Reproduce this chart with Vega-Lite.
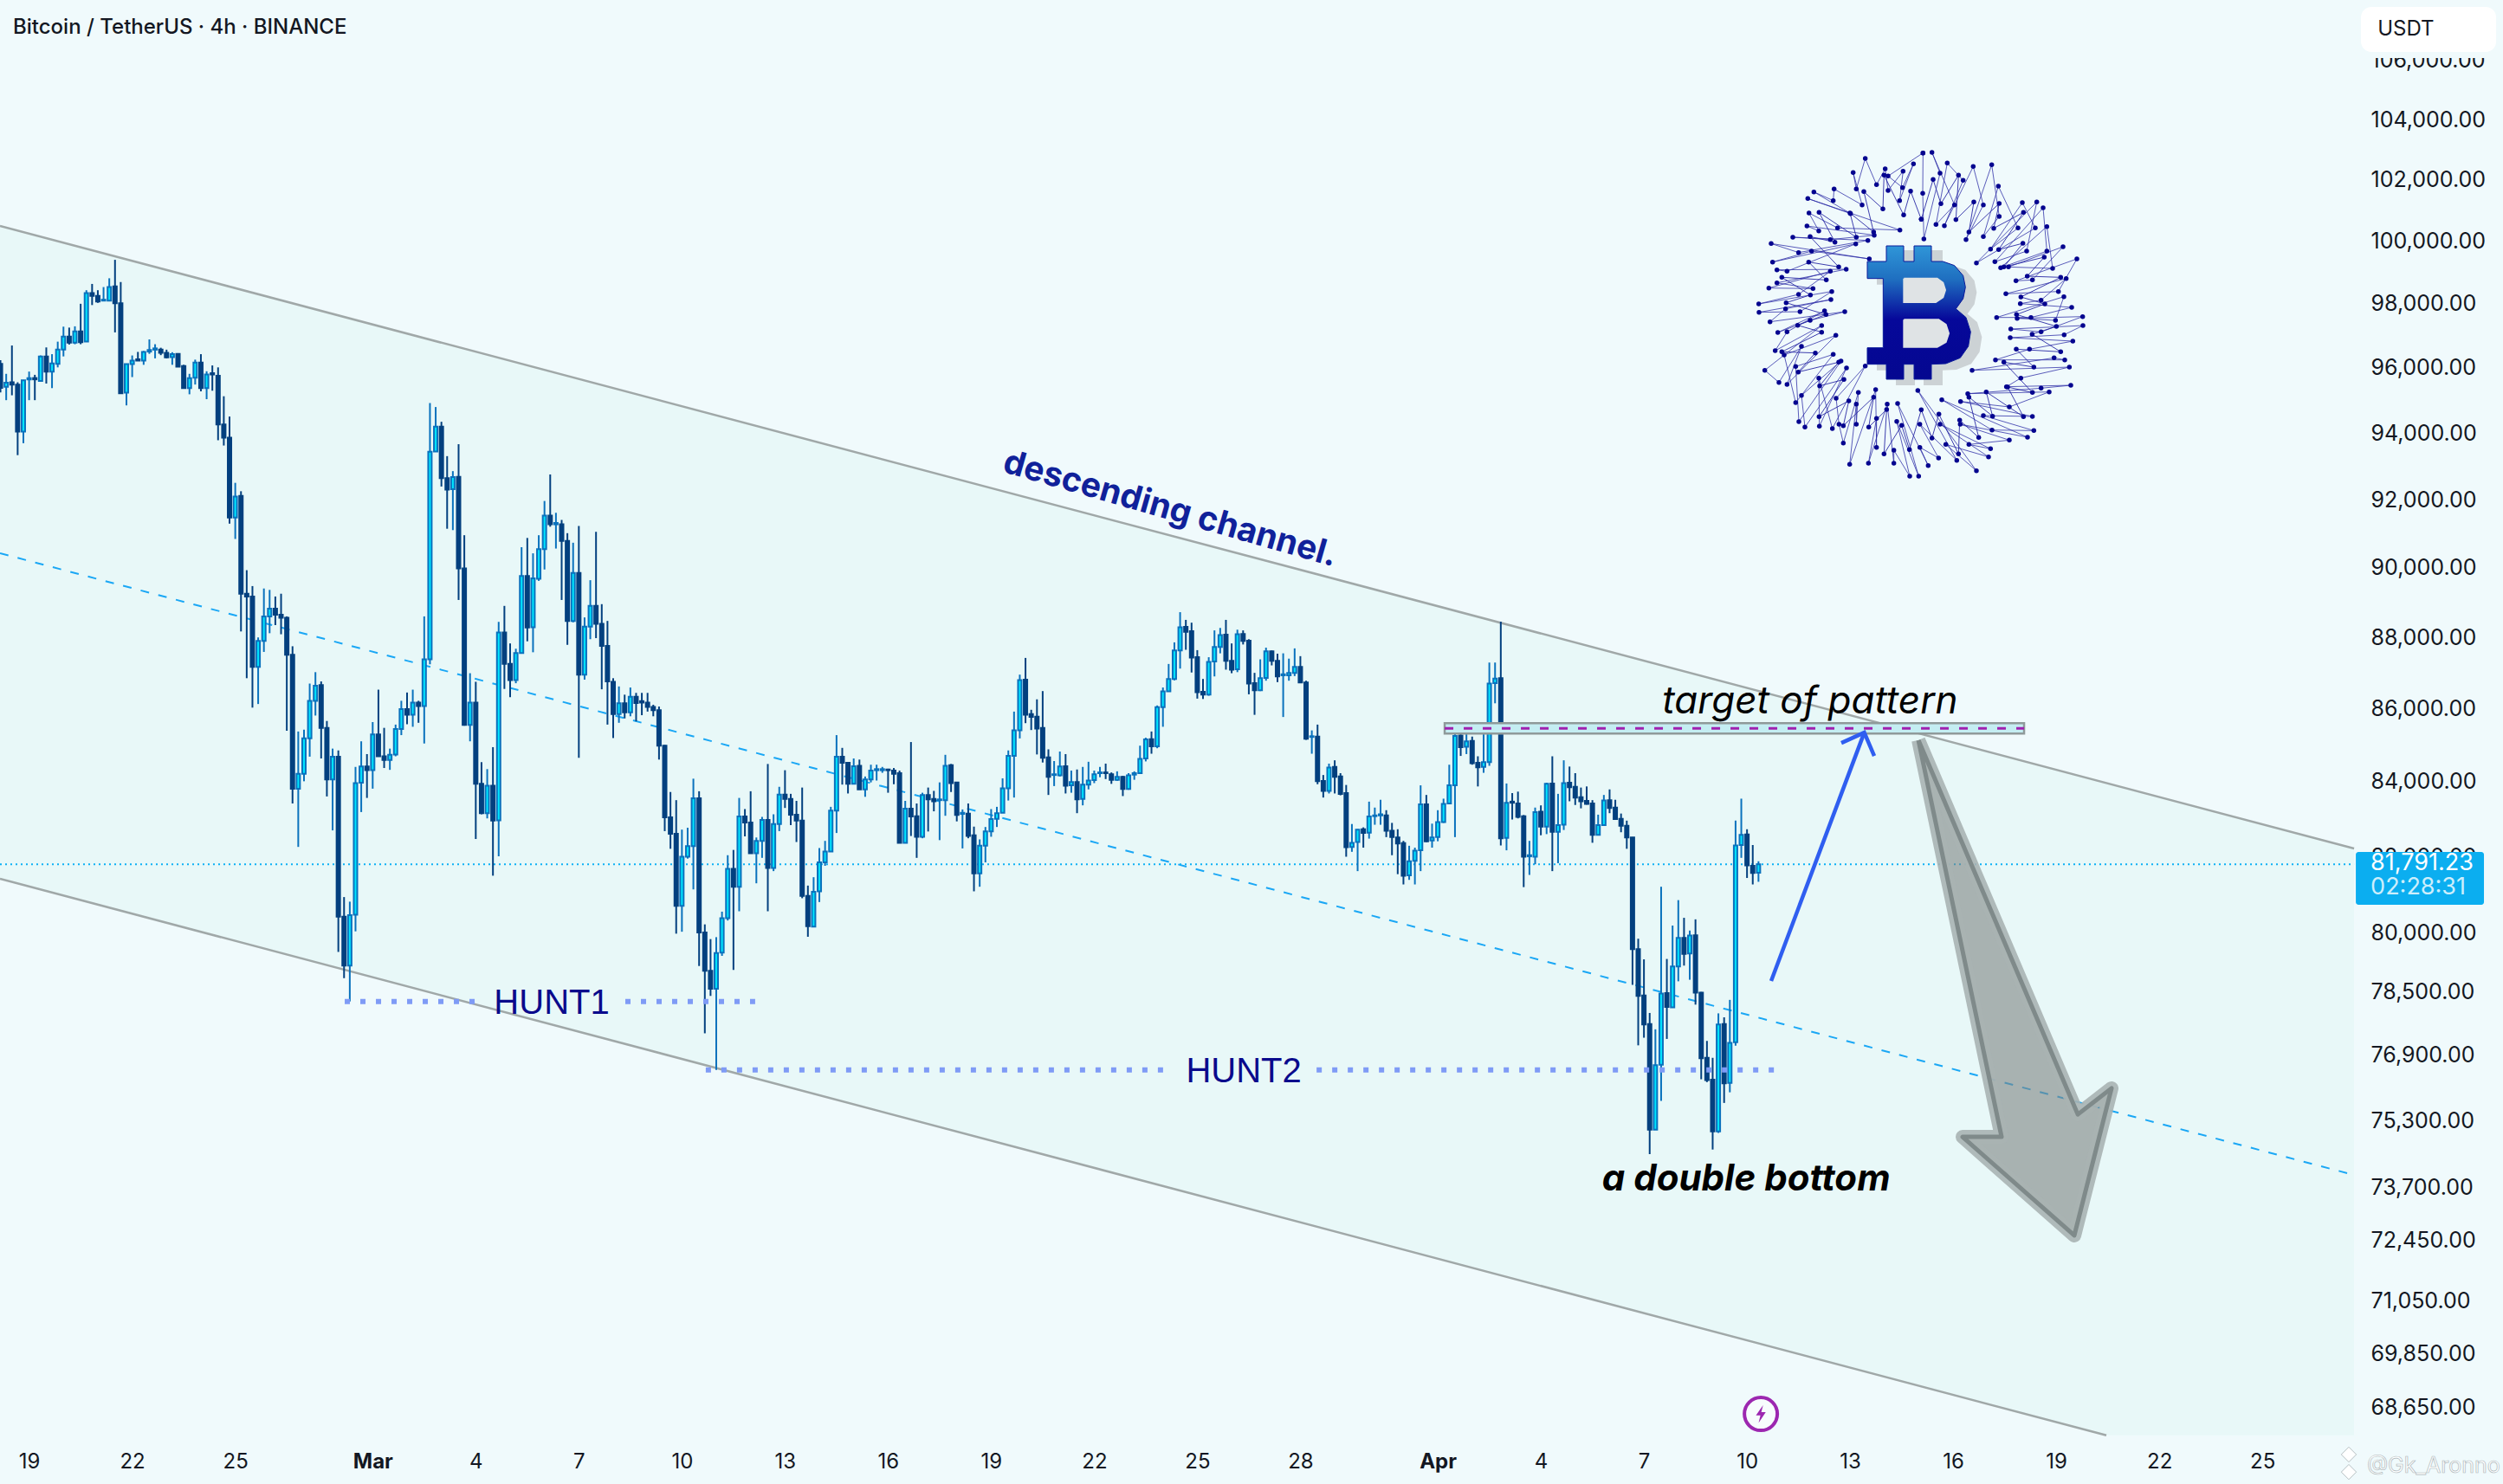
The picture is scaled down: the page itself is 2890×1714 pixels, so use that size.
{
"$schema":"https://vega.github.io/schema/vega-lite/v6.json",
"description":"BTCUSDT 4h descending channel with a double bottom",
"width":2890,"height":1714,"padding":0,
"autosize":{"type":"none"},
"background":"#f0fafc",
"config":{"view":{"stroke":null}},
"title":{"text":"Bitcoin / TetherUS · 4h · BINANCE","anchor":"start","frame":"group","dx":15,"offset":-44,"font":"Inter","fontSize":24,"fontWeight":500,"color":"#131722"},
"datasets":{
"days":[{"t":"2025-02-19T00:00Z"},{"t":"2025-02-22T00:00Z"},{"t":"2025-02-25T00:00Z"},{"t":"2025-03-01T00:00Z"},{"t":"2025-03-04T00:00Z"},{"t":"2025-03-07T00:00Z"},{"t":"2025-03-10T00:00Z"},{"t":"2025-03-13T00:00Z"},{"t":"2025-03-16T00:00Z"},{"t":"2025-03-19T00:00Z"},{"t":"2025-03-22T00:00Z"},{"t":"2025-03-25T00:00Z"},{"t":"2025-03-28T00:00Z"},{"t":"2025-04-01T00:00Z"},{"t":"2025-04-04T00:00Z"},{"t":"2025-04-07T00:00Z"},{"t":"2025-04-10T00:00Z"},{"t":"2025-04-13T00:00Z"},{"t":"2025-04-16T00:00Z"},{"t":"2025-04-19T00:00Z"},{"t":"2025-04-22T00:00Z"},{"t":"2025-04-25T00:00Z"}],
"candles":[
{"t":"2025-02-18T04:00Z","o":96120,"h":96230,"l":95240,"c":95380},
{"t":"2025-02-18T08:00Z","o":95410,"h":95810,"l":95000,"c":95540},
{"t":"2025-02-18T12:00Z","o":95550,"h":96690,"l":95150,"c":95480},
{"t":"2025-02-18T16:00Z","o":95480,"h":95550,"l":93330,"c":94040},
{"t":"2025-02-18T20:00Z","o":94040,"h":95620,"l":93690,"c":95610},
{"t":"2025-02-19T00:00Z","o":95640,"h":95880,"l":95000,"c":95680},
{"t":"2025-02-19T04:00Z","o":95680,"h":95780,"l":95000,"c":95640},
{"t":"2025-02-19T08:00Z","o":95590,"h":96380,"l":95570,"c":96350},
{"t":"2025-02-19T12:00Z","o":96350,"h":96630,"l":95510,"c":95880},
{"t":"2025-02-19T16:00Z","o":95880,"h":96420,"l":95370,"c":96130},
{"t":"2025-02-19T20:00Z","o":96120,"h":96810,"l":96010,"c":96560},
{"t":"2025-02-20T00:00Z","o":96560,"h":97280,"l":96350,"c":96970},
{"t":"2025-02-20T04:00Z","o":96970,"h":97250,"l":96720,"c":96780},
{"t":"2025-02-20T08:00Z","o":96780,"h":97290,"l":96730,"c":97130},
{"t":"2025-02-20T12:00Z","o":97130,"h":98000,"l":96730,"c":96790},
{"t":"2025-02-20T16:00Z","o":96810,"h":98430,"l":96810,"c":98340},
{"t":"2025-02-20T20:00Z","o":98340,"h":98630,"l":97960,"c":98250},
{"t":"2025-02-21T00:00Z","o":98250,"h":98430,"l":98030,"c":98070},
{"t":"2025-02-21T04:00Z","o":98100,"h":98530,"l":98090,"c":98130},
{"t":"2025-02-21T08:00Z","o":98100,"h":98810,"l":98090,"c":98530},
{"t":"2025-02-21T12:00Z","o":98550,"h":99400,"l":97100,"c":98020},
{"t":"2025-02-21T16:00Z","o":98020,"h":98690,"l":95210,"c":95210},
{"t":"2025-02-21T20:00Z","o":95230,"h":96120,"l":94840,"c":96110},
{"t":"2025-02-22T00:00Z","o":96110,"h":96380,"l":95710,"c":96220},
{"t":"2025-02-22T04:00Z","o":96260,"h":96490,"l":96220,"c":96220},
{"t":"2025-02-22T08:00Z","o":96220,"h":96520,"l":96090,"c":96490},
{"t":"2025-02-22T12:00Z","o":96500,"h":96880,"l":96430,"c":96550},
{"t":"2025-02-22T16:00Z","o":96560,"h":96730,"l":96290,"c":96600},
{"t":"2025-02-22T20:00Z","o":96560,"h":96620,"l":96390,"c":96460},
{"t":"2025-02-23T00:00Z","o":96460,"h":96560,"l":96290,"c":96320},
{"t":"2025-02-23T04:00Z","o":96330,"h":96480,"l":96090,"c":96420},
{"t":"2025-02-23T08:00Z","o":96430,"h":96450,"l":96030,"c":96030},
{"t":"2025-02-23T12:00Z","o":96050,"h":96090,"l":95370,"c":95370},
{"t":"2025-02-23T16:00Z","o":95370,"h":95810,"l":95180,"c":95680},
{"t":"2025-02-23T20:00Z","o":95690,"h":96250,"l":95480,"c":96160},
{"t":"2025-02-24T00:00Z","o":96160,"h":96420,"l":95270,"c":95370},
{"t":"2025-02-24T04:00Z","o":95370,"h":95890,"l":95030,"c":95790},
{"t":"2025-02-24T08:00Z","o":95830,"h":96070,"l":95290,"c":95790},
{"t":"2025-02-24T12:00Z","o":95750,"h":96010,"l":93780,"c":94260},
{"t":"2025-02-24T16:00Z","o":94260,"h":95120,"l":93620,"c":93860},
{"t":"2025-02-24T20:00Z","o":93860,"h":94500,"l":91290,"c":91470},
{"t":"2025-02-25T00:00Z","o":91470,"h":92500,"l":90840,"c":92090},
{"t":"2025-02-25T04:00Z","o":92110,"h":92250,"l":88170,"c":89250},
{"t":"2025-02-25T08:00Z","o":89250,"h":89930,"l":86850,"c":89170},
{"t":"2025-02-25T12:00Z","o":89170,"h":89470,"l":86030,"c":87170},
{"t":"2025-02-25T16:00Z","o":87170,"h":88000,"l":86130,"c":87900},
{"t":"2025-02-25T20:00Z","o":87900,"h":89400,"l":87590,"c":88600},
{"t":"2025-02-26T00:00Z","o":88600,"h":89360,"l":88120,"c":88820},
{"t":"2025-02-26T04:00Z","o":88820,"h":89170,"l":88350,"c":88650},
{"t":"2025-02-26T08:00Z","o":88650,"h":89250,"l":88090,"c":88560},
{"t":"2025-02-26T12:00Z","o":88560,"h":88600,"l":85390,"c":87510},
{"t":"2025-02-26T16:00Z","o":87510,"h":87750,"l":83410,"c":83810},
{"t":"2025-02-26T20:00Z","o":83810,"h":85370,"l":82250,"c":84210},
{"t":"2025-02-27T00:00Z","o":84210,"h":85420,"l":84010,"c":85180},
{"t":"2025-02-27T04:00Z","o":85180,"h":86700,"l":84680,"c":86220},
{"t":"2025-02-27T08:00Z","o":86220,"h":87020,"l":85810,"c":86640},
{"t":"2025-02-27T12:00Z","o":86660,"h":86760,"l":84630,"c":85470},
{"t":"2025-02-27T16:00Z","o":85470,"h":85660,"l":83600,"c":84060},
{"t":"2025-02-27T20:00Z","o":84060,"h":84900,"l":82690,"c":84680},
{"t":"2025-02-28T00:00Z","o":84680,"h":84850,"l":79510,"c":80420},
{"t":"2025-02-28T04:00Z","o":80420,"h":80930,"l":78840,"c":79160},
{"t":"2025-02-28T08:00Z","o":79160,"h":80810,"l":78250,"c":80460},
{"t":"2025-02-28T12:00Z","o":80470,"h":84400,"l":80040,"c":83960},
{"t":"2025-02-28T16:00Z","o":83970,"h":85100,"l":83180,"c":84410},
{"t":"2025-02-28T20:00Z","o":84410,"h":84750,"l":83560,"c":84310},
{"t":"2025-03-01T00:00Z","o":84310,"h":85630,"l":83810,"c":85290},
{"t":"2025-03-01T04:00Z","o":85290,"h":86530,"l":84690,"c":84690},
{"t":"2025-03-01T08:00Z","o":84690,"h":85470,"l":84370,"c":84590},
{"t":"2025-03-01T12:00Z","o":84590,"h":84900,"l":84320,"c":84730},
{"t":"2025-03-01T16:00Z","o":84740,"h":85560,"l":84690,"c":85440},
{"t":"2025-03-01T20:00Z","o":85440,"h":86220,"l":85270,"c":85990},
{"t":"2025-03-02T00:00Z","o":85990,"h":86450,"l":85570,"c":85830},
{"t":"2025-03-02T04:00Z","o":85830,"h":86530,"l":85500,"c":86170},
{"t":"2025-03-02T08:00Z","o":86170,"h":86220,"l":85610,"c":86070},
{"t":"2025-03-02T12:00Z","o":86070,"h":88600,"l":85040,"c":87380},
{"t":"2025-03-02T16:00Z","o":87380,"h":94910,"l":87240,"c":93430},
{"t":"2025-03-02T20:00Z","o":93440,"h":94790,"l":93440,"c":94190},
{"t":"2025-03-03T00:00Z","o":94190,"h":94340,"l":92390,"c":92640},
{"t":"2025-03-03T04:00Z","o":92640,"h":93300,"l":91140,"c":92300},
{"t":"2025-03-03T08:00Z","o":92310,"h":92850,"l":91100,"c":92670},
{"t":"2025-03-03T12:00Z","o":92680,"h":93660,"l":89070,"c":89980},
{"t":"2025-03-03T16:00Z","o":89980,"h":90950,"l":85530,"c":85550},
{"t":"2025-03-03T20:00Z","o":85550,"h":86990,"l":85100,"c":86170},
{"t":"2025-03-04T00:00Z","o":86170,"h":86750,"l":82460,"c":83940},
{"t":"2025-03-04T04:00Z","o":83940,"h":84530,"l":83120,"c":83150},
{"t":"2025-03-04T08:00Z","o":83150,"h":84340,"l":83010,"c":83890},
{"t":"2025-03-04T12:00Z","o":83890,"h":84940,"l":81490,"c":82950},
{"t":"2025-03-04T16:00Z","o":82960,"h":88440,"l":82000,"c":88140},
{"t":"2025-03-04T20:00Z","o":88140,"h":88900,"l":86550,"c":87250},
{"t":"2025-03-05T00:00Z","o":87250,"h":87830,"l":86320,"c":86800},
{"t":"2025-03-05T04:00Z","o":86800,"h":87680,"l":86710,"c":87560},
{"t":"2025-03-05T08:00Z","o":87560,"h":90600,"l":87560,"c":89760},
{"t":"2025-03-05T12:00Z","o":89760,"h":90870,"l":87890,"c":88280},
{"t":"2025-03-05T16:00Z","o":88290,"h":90420,"l":87580,"c":89690},
{"t":"2025-03-05T20:00Z","o":89680,"h":90950,"l":89620,"c":90540},
{"t":"2025-03-06T00:00Z","o":90540,"h":91960,"l":89950,"c":91530},
{"t":"2025-03-06T04:00Z","o":91530,"h":92750,"l":91200,"c":91270},
{"t":"2025-03-06T08:00Z","o":91270,"h":91610,"l":90560,"c":91310},
{"t":"2025-03-06T12:00Z","o":91270,"h":91400,"l":89070,"c":90780},
{"t":"2025-03-06T16:00Z","o":90780,"h":91010,"l":87790,"c":88470},
{"t":"2025-03-06T20:00Z","o":88470,"h":90730,"l":88430,"c":89850},
{"t":"2025-03-07T00:00Z","o":89850,"h":91220,"l":84650,"c":86950},
{"t":"2025-03-07T04:00Z","o":86950,"h":88570,"l":86810,"c":88310},
{"t":"2025-03-07T08:00Z","o":88310,"h":89640,"l":87950,"c":88900},
{"t":"2025-03-07T12:00Z","o":88900,"h":91050,"l":87980,"c":88390},
{"t":"2025-03-07T16:00Z","o":88390,"h":88950,"l":86540,"c":87760},
{"t":"2025-03-07T20:00Z","o":87760,"h":88470,"l":85560,"c":86760},
{"t":"2025-03-08T00:00Z","o":86750,"h":86850,"l":85190,"c":85850},
{"t":"2025-03-08T04:00Z","o":85850,"h":86620,"l":85610,"c":86150},
{"t":"2025-03-08T08:00Z","o":86150,"h":86390,"l":85730,"c":85900},
{"t":"2025-03-08T12:00Z","o":85900,"h":86590,"l":85790,"c":86330},
{"t":"2025-03-08T16:00Z","o":86330,"h":86440,"l":85650,"c":86160},
{"t":"2025-03-08T20:00Z","o":86210,"h":86440,"l":85820,"c":86170},
{"t":"2025-03-09T00:00Z","o":86170,"h":86440,"l":85920,"c":86050},
{"t":"2025-03-09T04:00Z","o":86050,"h":86110,"l":85790,"c":85960},
{"t":"2025-03-09T08:00Z","o":85960,"h":86060,"l":84600,"c":84980},
{"t":"2025-03-09T12:00Z","o":84980,"h":85000,"l":82670,"c":83040},
{"t":"2025-03-09T16:00Z","o":83040,"h":83720,"l":82200,"c":82600},
{"t":"2025-03-09T20:00Z","o":82600,"h":83500,"l":79980,"c":80700},
{"t":"2025-03-10T00:00Z","o":80700,"h":82710,"l":80030,"c":81990},
{"t":"2025-03-10T04:00Z","o":81990,"h":82760,"l":81940,"c":82270},
{"t":"2025-03-10T08:00Z","o":82270,"h":84080,"l":81130,"c":83550},
{"t":"2025-03-10T12:00Z","o":83550,"h":83740,"l":79150,"c":80010},
{"t":"2025-03-10T16:00Z","o":80010,"h":80220,"l":77450,"c":79030},
{"t":"2025-03-10T20:00Z","o":79030,"h":79840,"l":78390,"c":78570},
{"t":"2025-03-11T00:00Z","o":78570,"h":79890,"l":76540,"c":79480},
{"t":"2025-03-11T04:00Z","o":79490,"h":80550,"l":79410,"c":80380},
{"t":"2025-03-11T08:00Z","o":80380,"h":82030,"l":80320,"c":81670},
{"t":"2025-03-11T12:00Z","o":81670,"h":82170,"l":79050,"c":81200},
{"t":"2025-03-11T16:00Z","o":81200,"h":83560,"l":80560,"c":83060},
{"t":"2025-03-11T20:00Z","o":83060,"h":83260,"l":82530,"c":82900},
{"t":"2025-03-12T00:00Z","o":82900,"h":83740,"l":82080,"c":82080},
{"t":"2025-03-12T04:00Z","o":82080,"h":82500,"l":81290,"c":82410},
{"t":"2025-03-12T08:00Z","o":82410,"h":83050,"l":81960,"c":82970},
{"t":"2025-03-12T12:00Z","o":82970,"h":84480,"l":80560,"c":81690},
{"t":"2025-03-12T16:00Z","o":81690,"h":83120,"l":81610,"c":82860},
{"t":"2025-03-12T20:00Z","o":82860,"h":83860,"l":82670,"c":83650},
{"t":"2025-03-13T00:00Z","o":83650,"h":84310,"l":83290,"c":83530},
{"t":"2025-03-13T04:00Z","o":83530,"h":83670,"l":82830,"c":83110},
{"t":"2025-03-13T08:00Z","o":83110,"h":83480,"l":82380,"c":82950},
{"t":"2025-03-13T12:00Z","o":82950,"h":83840,"l":80900,"c":80960},
{"t":"2025-03-13T16:00Z","o":80960,"h":81230,"l":79900,"c":80170},
{"t":"2025-03-13T20:00Z","o":80160,"h":81450,"l":80160,"c":81070},
{"t":"2025-03-14T00:00Z","o":81080,"h":82220,"l":80800,"c":81840},
{"t":"2025-03-14T04:00Z","o":81840,"h":82410,"l":81750,"c":82130},
{"t":"2025-03-14T08:00Z","o":82130,"h":83320,"l":82130,"c":83220},
{"t":"2025-03-14T12:00Z","o":83220,"h":85270,"l":82620,"c":84680},
{"t":"2025-03-14T16:00Z","o":84680,"h":84920,"l":83920,"c":84510},
{"t":"2025-03-14T20:00Z","o":84510,"h":84510,"l":83680,"c":83940},
{"t":"2025-03-15T00:00Z","o":83940,"h":84630,"l":83940,"c":84420},
{"t":"2025-03-15T04:00Z","o":84430,"h":84600,"l":83790,"c":83790},
{"t":"2025-03-15T08:00Z","o":83790,"h":84140,"l":83590,"c":84060},
{"t":"2025-03-15T12:00Z","o":84060,"h":84460,"l":83980,"c":84300},
{"t":"2025-03-15T16:00Z","o":84310,"h":84460,"l":84030,"c":84340},
{"t":"2025-03-15T20:00Z","o":84310,"h":84400,"l":84240,"c":84340},
{"t":"2025-03-16T00:00Z","o":84330,"h":84350,"l":83700,"c":84310},
{"t":"2025-03-16T04:00Z","o":84300,"h":84370,"l":83930,"c":84210},
{"t":"2025-03-16T08:00Z","o":84230,"h":84300,"l":82360,"c":82360},
{"t":"2025-03-16T12:00Z","o":82360,"h":83480,"l":82360,"c":83270},
{"t":"2025-03-16T16:00Z","o":83270,"h":85080,"l":82540,"c":83060},
{"t":"2025-03-16T20:00Z","o":83070,"h":83410,"l":81960,"c":82520},
{"t":"2025-03-17T00:00Z","o":82520,"h":83700,"l":82480,"c":83640},
{"t":"2025-03-17T04:00Z","o":83640,"h":83840,"l":82660,"c":83520},
{"t":"2025-03-17T08:00Z","o":83530,"h":83750,"l":83200,"c":83470},
{"t":"2025-03-17T12:00Z","o":83500,"h":83980,"l":82430,"c":83520},
{"t":"2025-03-17T16:00Z","o":83500,"h":84730,"l":83080,"c":84430},
{"t":"2025-03-17T20:00Z","o":84450,"h":84480,"l":83720,"c":83960},
{"t":"2025-03-18T00:00Z","o":83980,"h":83980,"l":82930,"c":83100},
{"t":"2025-03-18T04:00Z","o":83130,"h":83250,"l":82210,"c":83160},
{"t":"2025-03-18T08:00Z","o":83140,"h":83410,"l":82480,"c":82540},
{"t":"2025-03-18T12:00Z","o":82560,"h":82790,"l":81080,"c":81550},
{"t":"2025-03-18T16:00Z","o":81550,"h":82450,"l":81200,"c":82280},
{"t":"2025-03-18T20:00Z","o":82280,"h":82780,"l":81840,"c":82660},
{"t":"2025-03-19T00:00Z","o":82660,"h":83260,"l":82520,"c":82990},
{"t":"2025-03-19T04:00Z","o":83000,"h":83320,"l":82780,"c":83150},
{"t":"2025-03-19T08:00Z","o":83160,"h":84090,"l":83160,"c":83820},
{"t":"2025-03-19T12:00Z","o":83820,"h":84850,"l":83490,"c":84700},
{"t":"2025-03-19T16:00Z","o":84700,"h":85920,"l":83570,"c":85400},
{"t":"2025-03-19T20:00Z","o":85400,"h":86950,"l":85180,"c":86800},
{"t":"2025-03-20T00:00Z","o":86810,"h":87420,"l":85600,"c":85830},
{"t":"2025-03-20T04:00Z","o":85850,"h":85970,"l":85410,"c":85770},
{"t":"2025-03-20T08:00Z","o":85780,"h":86260,"l":84740,"c":85450},
{"t":"2025-03-20T12:00Z","o":85470,"h":86490,"l":84520,"c":84650},
{"t":"2025-03-20T16:00Z","o":84660,"h":84880,"l":83640,"c":84130},
{"t":"2025-03-20T20:00Z","o":84180,"h":84560,"l":83880,"c":84200},
{"t":"2025-03-21T00:00Z","o":84170,"h":84820,"l":84140,"c":84410},
{"t":"2025-03-21T04:00Z","o":84420,"h":84750,"l":83680,"c":83890},
{"t":"2025-03-21T08:00Z","o":83900,"h":84300,"l":83700,"c":83990},
{"t":"2025-03-21T12:00Z","o":83990,"h":84330,"l":83150,"c":83520},
{"t":"2025-03-21T16:00Z","o":83530,"h":84400,"l":83360,"c":83920},
{"t":"2025-03-21T20:00Z","o":83920,"h":84540,"l":83790,"c":84030},
{"t":"2025-03-22T00:00Z","o":84040,"h":84300,"l":83960,"c":84200},
{"t":"2025-03-22T04:00Z","o":84230,"h":84400,"l":84120,"c":84250},
{"t":"2025-03-22T08:00Z","o":84250,"h":84490,"l":84070,"c":84230},
{"t":"2025-03-22T12:00Z","o":84200,"h":84250,"l":83940,"c":84050},
{"t":"2025-03-22T16:00Z","o":84050,"h":84280,"l":84020,"c":84130},
{"t":"2025-03-22T20:00Z","o":84130,"h":84160,"l":83610,"c":83800},
{"t":"2025-03-23T00:00Z","o":83800,"h":84230,"l":83780,"c":84170},
{"t":"2025-03-23T04:00Z","o":84190,"h":84280,"l":84050,"c":84230},
{"t":"2025-03-23T08:00Z","o":84230,"h":84980,"l":84230,"c":84620},
{"t":"2025-03-23T12:00Z","o":84630,"h":85200,"l":84550,"c":85150},
{"t":"2025-03-23T16:00Z","o":85160,"h":85370,"l":84760,"c":84960},
{"t":"2025-03-23T20:00Z","o":84960,"h":86090,"l":84910,"c":86040},
{"t":"2025-03-24T00:00Z","o":86040,"h":86590,"l":85500,"c":86480},
{"t":"2025-03-24T04:00Z","o":86480,"h":87250,"l":86480,"c":86830},
{"t":"2025-03-24T08:00Z","o":86830,"h":87860,"l":86790,"c":87630},
{"t":"2025-03-24T12:00Z","o":87630,"h":88720,"l":87120,"c":88290},
{"t":"2025-03-24T16:00Z","o":88300,"h":88500,"l":87650,"c":88160},
{"t":"2025-03-24T20:00Z","o":88180,"h":88420,"l":87010,"c":87430},
{"t":"2025-03-25T00:00Z","o":87440,"h":87640,"l":86280,"c":86460},
{"t":"2025-03-25T04:00Z","o":86470,"h":86830,"l":86270,"c":86390},
{"t":"2025-03-25T08:00Z","o":86390,"h":87440,"l":86360,"c":87310},
{"t":"2025-03-25T12:00Z","o":87320,"h":88200,"l":86900,"c":87730},
{"t":"2025-03-25T16:00Z","o":87730,"h":88270,"l":87550,"c":88070},
{"t":"2025-03-25T20:00Z","o":88080,"h":88500,"l":87090,"c":87340},
{"t":"2025-03-26T00:00Z","o":87340,"h":87830,"l":86990,"c":87090},
{"t":"2025-03-26T04:00Z","o":87100,"h":88220,"l":87020,"c":88090},
{"t":"2025-03-26T08:00Z","o":88100,"h":88200,"l":87800,"c":87900},
{"t":"2025-03-26T12:00Z","o":87910,"h":87950,"l":86400,"c":86700},
{"t":"2025-03-26T16:00Z","o":86710,"h":87000,"l":85830,"c":86510},
{"t":"2025-03-26T20:00Z","o":86510,"h":87380,"l":86490,"c":86850},
{"t":"2025-03-27T00:00Z","o":86860,"h":87710,"l":86780,"c":87610},
{"t":"2025-03-27T04:00Z","o":87610,"h":87630,"l":87210,"c":87340},
{"t":"2025-03-27T08:00Z","o":87340,"h":87540,"l":86740,"c":86900},
{"t":"2025-03-27T12:00Z","o":86930,"h":87550,"l":85770,"c":86960},
{"t":"2025-03-27T16:00Z","o":86930,"h":87400,"l":86780,"c":87000},
{"t":"2025-03-27T20:00Z","o":87000,"h":87690,"l":86910,"c":87170},
{"t":"2025-03-28T00:00Z","o":87170,"h":87470,"l":86730,"c":86730},
{"t":"2025-03-28T04:00Z","o":86730,"h":86780,"l":85140,"c":85170},
{"t":"2025-03-28T08:00Z","o":85220,"h":85400,"l":84760,"c":85240},
{"t":"2025-03-28T12:00Z","o":85230,"h":85560,"l":83930,"c":84010},
{"t":"2025-03-28T16:00Z","o":84020,"h":84180,"l":83570,"c":83750},
{"t":"2025-03-28T20:00Z","o":83750,"h":84490,"l":83680,"c":84380},
{"t":"2025-03-29T00:00Z","o":84400,"h":84580,"l":83680,"c":84130},
{"t":"2025-03-29T04:00Z","o":84140,"h":84230,"l":83630,"c":83670},
{"t":"2025-03-29T08:00Z","o":83690,"h":83910,"l":81990,"c":82240},
{"t":"2025-03-29T12:00Z","o":82250,"h":82860,"l":82120,"c":82360},
{"t":"2025-03-29T16:00Z","o":82380,"h":82720,"l":81610,"c":82710},
{"t":"2025-03-29T20:00Z","o":82720,"h":82770,"l":82230,"c":82620},
{"t":"2025-03-30T00:00Z","o":82630,"h":83460,"l":82470,"c":83060},
{"t":"2025-03-30T04:00Z","o":83070,"h":83300,"l":82840,"c":83090},
{"t":"2025-03-30T08:00Z","o":83090,"h":83510,"l":82840,"c":83120},
{"t":"2025-03-30T12:00Z","o":83090,"h":83230,"l":82510,"c":82680},
{"t":"2025-03-30T16:00Z","o":82680,"h":82890,"l":82030,"c":82510},
{"t":"2025-03-30T20:00Z","o":82500,"h":82720,"l":81530,"c":82340},
{"t":"2025-03-31T00:00Z","o":82350,"h":82410,"l":81260,"c":81490},
{"t":"2025-03-31T04:00Z","o":81500,"h":82280,"l":81380,"c":81870},
{"t":"2025-03-31T08:00Z","o":81880,"h":82230,"l":81260,"c":82150},
{"t":"2025-03-31T12:00Z","o":82160,"h":83900,"l":81610,"c":83390},
{"t":"2025-03-31T16:00Z","o":83390,"h":83640,"l":82380,"c":82400},
{"t":"2025-03-31T20:00Z","o":82420,"h":82870,"l":82230,"c":82500},
{"t":"2025-04-01T00:00Z","o":82510,"h":83230,"l":82400,"c":82910},
{"t":"2025-04-01T04:00Z","o":82910,"h":83540,"l":82890,"c":83400},
{"t":"2025-04-01T08:00Z","o":83410,"h":84460,"l":83390,"c":83900},
{"t":"2025-04-01T12:00Z","o":83900,"h":85470,"l":82510,"c":85250},
{"t":"2025-04-01T16:00Z","o":85260,"h":85440,"l":84700,"c":84940},
{"t":"2025-04-01T20:00Z","o":84950,"h":85530,"l":84750,"c":85100},
{"t":"2025-04-02T00:00Z","o":85110,"h":85230,"l":84460,"c":84500},
{"t":"2025-04-02T04:00Z","o":84510,"h":84690,"l":83870,"c":84390},
{"t":"2025-04-02T08:00Z","o":84400,"h":85420,"l":84240,"c":84530},
{"t":"2025-04-02T12:00Z","o":84530,"h":87290,"l":84430,"c":86700},
{"t":"2025-04-02T16:00Z","o":86710,"h":87290,"l":86150,"c":86840},
{"t":"2025-04-02T20:00Z","o":86850,"h":88450,"l":82290,"c":82480},
{"t":"2025-04-03T00:00Z","o":82490,"h":83950,"l":82160,"c":83430},
{"t":"2025-04-03T04:00Z","o":83460,"h":83690,"l":82980,"c":83430},
{"t":"2025-04-03T08:00Z","o":83410,"h":83730,"l":83010,"c":83050},
{"t":"2025-04-03T12:00Z","o":83070,"h":83100,"l":81190,"c":81990},
{"t":"2025-04-03T16:00Z","o":82000,"h":82410,"l":81510,"c":82030},
{"t":"2025-04-03T20:00Z","o":81990,"h":83300,"l":81790,"c":83180},
{"t":"2025-04-04T00:00Z","o":83190,"h":83360,"l":82560,"c":82790},
{"t":"2025-04-04T04:00Z","o":82790,"h":83970,"l":82590,"c":83940},
{"t":"2025-04-04T08:00Z","o":83950,"h":84690,"l":81610,"c":82650},
{"t":"2025-04-04T12:00Z","o":82650,"h":83670,"l":81820,"c":82830},
{"t":"2025-04-04T16:00Z","o":82840,"h":84580,"l":82700,"c":83960},
{"t":"2025-04-04T20:00Z","o":83970,"h":84410,"l":83470,"c":83850},
{"t":"2025-04-05T00:00Z","o":83860,"h":84230,"l":83370,"c":83570},
{"t":"2025-04-05T04:00Z","o":83580,"h":83840,"l":83280,"c":83470},
{"t":"2025-04-05T08:00Z","o":83480,"h":83870,"l":83380,"c":83400},
{"t":"2025-04-05T12:00Z","o":83410,"h":83500,"l":82360,"c":82570},
{"t":"2025-04-05T16:00Z","o":82570,"h":83110,"l":82570,"c":82830},
{"t":"2025-04-05T20:00Z","o":82830,"h":83640,"l":82830,"c":83490},
{"t":"2025-04-06T00:00Z","o":83500,"h":83790,"l":83150,"c":83290},
{"t":"2025-04-06T04:00Z","o":83300,"h":83510,"l":82980,"c":82990},
{"t":"2025-04-06T08:00Z","o":83000,"h":83140,"l":82640,"c":82810},
{"t":"2025-04-06T12:00Z","o":82810,"h":82950,"l":82200,"c":82500},
{"t":"2025-04-06T16:00Z","o":82500,"h":82510,"l":78670,"c":79580},
{"t":"2025-04-06T20:00Z","o":79580,"h":79850,"l":77150,"c":78390},
{"t":"2025-04-07T00:00Z","o":78400,"h":79320,"l":77340,"c":77670},
{"t":"2025-04-07T04:00Z","o":77680,"h":77960,"l":74490,"c":75080},
{"t":"2025-04-07T08:00Z","o":75080,"h":77550,"l":75080,"c":76660},
{"t":"2025-04-07T12:00Z","o":76670,"h":81200,"l":75780,"c":78450},
{"t":"2025-04-07T16:00Z","o":78460,"h":79330,"l":77310,"c":78110},
{"t":"2025-04-07T20:00Z","o":78100,"h":80190,"l":78100,"c":79140},
{"t":"2025-04-08T00:00Z","o":79140,"h":80850,"l":78760,"c":79870},
{"t":"2025-04-08T04:00Z","o":79870,"h":80390,"l":79160,"c":79460},
{"t":"2025-04-08T08:00Z","o":79470,"h":80060,"l":78800,"c":79930},
{"t":"2025-04-08T12:00Z","o":79940,"h":80350,"l":78170,"c":78470},
{"t":"2025-04-08T16:00Z","o":78470,"h":78490,"l":76310,"c":76830},
{"t":"2025-04-08T20:00Z","o":76840,"h":77260,"l":76240,"c":76290},
{"t":"2025-04-09T00:00Z","o":76300,"h":76840,"l":74600,"c":75040},
{"t":"2025-04-09T04:00Z","o":75040,"h":77950,"l":75000,"c":77670},
{"t":"2025-04-09T08:00Z","o":77680,"h":77850,"l":75730,"c":76210},
{"t":"2025-04-09T12:00Z","o":76220,"h":78290,"l":75990,"c":77210},
{"t":"2025-04-09T16:00Z","o":77230,"h":82950,"l":77140,"c":82290},
{"t":"2025-04-09T20:00Z","o":82300,"h":83540,"l":81960,"c":82570},
{"t":"2025-04-10T00:00Z","o":82580,"h":82720,"l":81430,"c":81760},
{"t":"2025-04-10T04:00Z","o":81750,"h":82300,"l":81260,"c":81560},
{"t":"2025-04-10T08:00Z","o":81570,"h":81870,"l":81330,"c":81791.23}
],
"arrowShape":[
{"t":"2025-04-14T23:44Z","p":85130},{"t":"2025-04-19T15:04Z","p":75450},{"t":"2025-04-20T14:38Z","p":76090},{"t":"2025-04-19T12:37Z","p":72560},{"t":"2025-04-16T06:34Z","p":74905},{"t":"2025-04-17T09:48Z","p":74905},{"t":"2025-04-14T23:44Z","p":85130}
],
"bee":[
{"u":528,"v":456},{"u":594,"v":456},{"u":594,"v":402},{"u":654,"v":402},{"u":654,"v":456},{"u":690,"v":456},{"u":690,"v":402},{"u":750,"v":402},{"u":750,"v":456},{"u":790,"v":456},{"u":830,"v":470},{"u":860,"v":505},{"u":868,"v":545},{"u":860,"v":585},{"u":835,"v":620},{"u":870,"v":650},{"u":886,"v":700},{"u":878,"v":750},{"u":850,"v":790},{"u":800,"v":810},{"u":750,"v":812},{"u":750,"v":864},{"u":690,"v":864},{"u":690,"v":812},{"u":654,"v":812},{"u":654,"v":864},{"u":594,"v":864},{"u":594,"v":812},{"u":528,"v":812},{"u":528,"v":755},{"u":583,"v":755},{"u":583,"v":515},{"u":528,"v":515},{"u":528,"v":456}
],
"ring":[
{"u":721,"v":80},{"u":720,"v":220},{"u":724,"v":378},{"u":780,"v":150},{"u":752,"v":78},{"u":830,"v":260},{"u":766,"v":328},{"u":805,"v":115},{"u":860,"v":175},{"u":795,"v":332},{"u":895,"v":127},{"u":930,"v":260},{"u":870,"v":380},{"u":959,"v":121},{"u":985,"v":300},{"u":930,"v":370},{"u":982,"v":195},{"u":1050,"v":340},{"u":955,"v":413},
{"u":1065,"v":252},{"u":1110,"v":340},{"u":906,"v":461},{"u":1115,"v":250},{"u":1080,"v":420},{"u":970,"v":457},{"u":1137,"v":270},{"u":1150,"v":420},{"u":990,"v":478},{"u":1150,"v":335},{"u":1170,"v":480},{"u":1017,"v":475},{"u":1206,"v":405},{"u":1100,"v":520},{"u":1043,"v":523},{"u":1254,"v":447},{"u":1190,"v":560},{"u":1008,"v":568},{"u":1217,"v":515},{"u":1130,"v":590},{"u":1058,"v":602},
{"u":1236,"v":615},{"u":1095,"v":650},{"u":976,"v":650},{"u":1209,"v":578},{"u":1180,"v":660},{"u":1047,"v":653},{"u":1274,"v":647},{"u":1130,"v":700},{"u":1025,"v":690},{"u":1275,"v":678},{"u":1210,"v":710},{"u":1023,"v":720},{"u":1240,"v":732},{"u":1090,"v":760},{"u":972,"v":797},{"u":1212,"v":797},{"u":1175,"v":790},{"u":891,"v":833},
{"u":1228,"v":822},{"u":1060,"v":860},{"u":1010,"v":890},{"u":1233,"v":885},{"u":1130,"v":895},{"u":876,"v":914},{"u":1158,"v":908},{"u":1020,"v":960},{"u":851,"v":941},{"u":1100,"v":993},{"u":930,"v":990},{"u":1105,"v":1042},{"u":960,"v":1040},{"u":786,"v":935},{"u":1083,"v":1065},{"u":850,"v":1020},{"u":1020,"v":1075},{"u":880,"v":1090},
{"u":955,"v":1105},{"u":780,"v":1020},{"u":948,"v":1133},{"u":800,"v":1090},{"u":906,"v":1181},{"u":703,"v":903},{"u":838,"v":1145},{"u":710,"v":1020},{"u":775,"v":1137},{"u":710,"v":1100},{"u":739,"v":1163},{"u":633,"v":948},{"u":706,"v":1200},{"u":630,"v":1010},{"u":675,"v":1200},{"u":620,"v":1110},{"u":620,"v":1155},{"u":597,"v":950},{"u":532,"v":1155},{"u":560,"v":1000},{"u":560,"v":1100},{"u":557,"v":900},
{"u":467,"v":1159},{"u":490,"v":950},{"u":490,"v":1020},{"u":497,"v":910},{"u":445,"v":1085},{"u":430,"v":1020},{"u":420,"v":930},{"u":521,"v":818},{"u":407,"v":1035},{"u":360,"v":860},{"u":362,"v":1027},{"u":456,"v":825},{"u":312,"v":1030},{"u":300,"v":920},{"u":437,"v":801},{"u":291,"v":1011},{"u":280,"v":820},{"u":410,"v":778},{"u":280,"v":945},{"u":240,"v":780},{"u":419,"v":712},{"u":250,"v":882},{"u":300,"v":750},{"u":222,"v":875},{"u":173,"v":833},{"u":370,"v":678},{"u":209,"v":765},{"u":250,"v":700},{"u":380,"v":627},{"u":218,"v":702},{"u":330,"v":660},{"u":450,"v":630},
{"u":191,"v":665},{"u":245,"v":620},{"u":402,"v":588},{"u":153,"v":632},{"u":295,"v":630},{"u":405,"v":560},{"u":152,"v":603},{"u":290,"v":570},{"u":400,"v":490},{"u":187,"v":548},{"u":340,"v":550},{"u":215,"v":530},{"u":455,"v":483},{"u":215,"v":485},{"u":250,"v":490},{"u":488,"v":395},{"u":200,"v":458},{"u":335,"v":420},{"u":535,"v":447},{"u":195,"v":394},{"u":290,"v":425},{"u":530,"v":383},{"u":270,"v":372},{"u":400,"v":380},{"u":552,"v":365},
{"u":319,"v":333},{"u":360,"v":350},{"u":326,"v":288},{"u":425,"v":340},{"u":641,"v":347},{"u":322,"v":238},{"u":470,"v":290},{"u":343,"v":215},{"u":410,"v":245},{"u":413,"v":205},{"u":510,"v":260},{"u":479,"v":148},{"u":490,"v":205},{"u":521,"v":99},{"u":560,"v":190},{"u":590,"v":135},{"u":600,"v":210},{"u":652,"v":143},{"u":640,"v":245},{"u":688,"v":118},{"u":650,"v":200},{"u":600,"v":160},{"u":721,"v":80}
],
"ring2":[
{"u":715,"v":310},{"u":756,"v":172},{"u":783,"v":256},{"u":844,"v":157},{"u":835,"v":311},{"u":897,"v":250},{"u":880,"v":354},{"u":985,"v":255},{"u":966,"v":341},{"u":1069,"v":286},{"u":983,"v":415},{"u":1067,"v":393},{"u":1001,"v":475},{"u":1141,"v":441},{"u":1082,"v":507},{"u":1198,"v":511},{"u":1060,"v":579},{"u":1143,"v":603},
{"u":1045,"v":640},{"u":1183,"v":681},{"u":1099,"v":708},{"u":1198,"v":769},{"u":1044,"v":760},{"u":1105,"v":822},{"u":1001,"v":805},{"u":1100,"v":910},{"u":1014,"v":891},{"u":1069,"v":994},{"u":940,"v":908},{"u":962,"v":992},{"u":880,"v":926},{"u":914,"v":1066},{"u":848,"v":1006},{"u":844,"v":1123},{"u":776,"v":985},{"u":752,"v":1068},
{"u":715,"v":970},{"u":674,"v":1108},{"u":647,"v":1024},{"u":586,"v":1123},{"u":595,"v":969},{"u":533,"v":1030},{"u":550,"v":926},{"u":445,"v":1025},{"u":464,"v":939},{"u":361,"v":994},{"u":447,"v":865},{"u":363,"v":887},{"u":429,"v":805},{"u":289,"v":839},{"u":348,"v":773},{"u":232,"v":769},{"u":370,"v":701},{"u":287,"v":677},
{"u":385,"v":640},{"u":247,"v":599},{"u":331,"v":572},{"u":232,"v":511},{"u":386,"v":520},{"u":325,"v":458},{"u":429,"v":475},{"u":330,"v":370},{"u":416,"v":389},{"u":361,"v":286},{"u":490,"v":372},{"u":468,"v":288},{"u":550,"v":354},{"u":516,"v":214},{"u":582,"v":274},{"u":586,"v":157},{"u":654,"v":295},{"u":678,"v":212},{"u":715,"v":310}
]
},
"layer":[
{"encoding":{
"x":{"field":"t","type":"temporal","title":null,
"scale":{"type":"utc","domain":["2025-02-18T03:40:00Z","2025-05-02T00:04:00Z"],"nice":false,"padding":0},
"axis":{"orient":"bottom","offset":-26,"domain":false,"ticks":false,"grid":false,"labelPadding":0,"labelBaseline":"middle","labelAlign":"center","labelFont":"Inter","labelFontSize":24,"labelColor":"#131722","labelOverlap":false,"labelFlush":false,"labelBound":false,
"values":["2025-02-19T00:00:00Z","2025-02-22T00:00:00Z","2025-02-25T00:00:00Z","2025-03-01T00:00:00Z","2025-03-04T00:00:00Z","2025-03-07T00:00:00Z","2025-03-10T00:00:00Z","2025-03-13T00:00:00Z","2025-03-16T00:00:00Z","2025-03-19T00:00:00Z","2025-03-22T00:00:00Z","2025-03-25T00:00:00Z","2025-03-28T00:00:00Z","2025-04-01T00:00:00Z","2025-04-04T00:00:00Z","2025-04-07T00:00:00Z","2025-04-10T00:00:00Z","2025-04-13T00:00:00Z","2025-04-16T00:00:00Z","2025-04-19T00:00:00Z","2025-04-22T00:00:00Z","2025-04-25T00:00:00Z"],
"labelExpr":"utcdate(datum.value)==1 ? utcFormat(datum.value,'%b') : utcFormat(datum.value,'%-d')",
"labelFontWeight":{"condition":{"test":"utcdate(datum.value)==1","value":"bold"},"value":"normal"}}},
"y":{"field":"p","type":"quantitative","title":null,
"scale":{"type":"log","domain":[66970,108090],"nice":false,"zero":false},
"axis":{"orient":"right","offset":-153,"domain":false,"ticks":false,"grid":false,"labelPadding":0,"labelAlign":"left","labelBaseline":"middle","labelFont":"Inter","labelFontSize":25,"labelColor":"#131722","labelOverlap":false,"labelFlush":false,"labelBound":false,"format":",.2f",
"values":[106000,104000,102000,100000,98000,96000,94000,92000,90000,88000,86000,84000,82000,80000,78500,76900,75300,73700,72450,71050,69850,68650]}}},
"layer":[
{"data":{"values":[{"t":"2025-02-18T03:40Z","p":100493,"p2":81410},{"t":"2025-04-20T11:00Z","p":83966,"p2":68030},{"t":"2025-04-27T16:03Z","p":82207,"p2":68030}]},
"mark":{"type":"area","color":"#e8f8f8"},"encoding":{"y2":{"field":"p2"}}},
{"data":{"name":"days"},"mark":{"type":"rule","color":"#5f7f8c","opacity":0.04,"strokeWidth":2},
"encoding":{"y":{"datum":108090,"type":"quantitative","scale":{"type":"log"}},"y2":{"datum":68030}}},
{"data":{"values":[{"t":"2025-02-18T03:40Z","p":100493,"s":"upper"},{"t":"2025-04-27T16:03Z","p":82207,"s":"upper"},{"t":"2025-02-18T03:40Z","p":81410,"s":"lower"},{"t":"2025-04-20T11:00Z","p":68030,"s":"lower"}]},
"mark":{"type":"line","color":"#a0a8a8","strokeWidth":2.5},"encoding":{"detail":{"field":"s"}}},
{"data":{"values":[{"t":"2025-02-18T03:40Z","p":90423},{"t":"2025-04-27T16:03Z","p":73990}]},
"mark":{"type":"line","color":"#1aa7f5","strokeWidth":2,"strokeDash":[10,11]}},
{"data":{"values":[{"t":"2025-02-18T03:40Z","p":81791.23},{"t":"2025-04-27T16:03Z","p":81791.23}]},
"mark":{"type":"line","color":"#0bb0f5","strokeWidth":2,"strokeDash":[2,4]}},
{"data":{"name":"candles"},"mark":{"type":"rule","strokeWidth":2},
"encoding":{"y":{"field":"l","type":"quantitative","scale":{"type":"log"}},"y2":{"field":"h"},
"color":{"condition":{"test":"datum.c>=datum.o","value":"#0a72bd"},"value":"#03407f"}}},
{"data":{"name":"candles"},"mark":{"type":"bar","size":4,"strokeWidth":2},
"encoding":{"y":{"field":"o","type":"quantitative","scale":{"type":"log"}},"y2":{"field":"c"},
"fill":{"condition":{"test":"datum.c>=datum.o","value":"#00e5ff"},"value":"#03407f"},
"stroke":{"condition":{"test":"datum.c>=datum.o","value":"#0a72bd"},"value":"#03407f"}}},
{"data":{"values":[{"t":"2025-02-28T04:28Z","p":78250,"s":"a"},{"t":"2025-03-03T23:13Z","p":78250,"s":"a"},{"t":"2025-03-08T08:28Z","p":78250,"s":"b"},{"t":"2025-03-12T03:10Z","p":78250,"s":"b"},{"t":"2025-03-10T16:40Z","p":76540,"s":"c"},{"t":"2025-03-24T05:04Z","p":76540,"s":"c"},{"t":"2025-03-28T11:20Z","p":76540,"s":"d"},{"t":"2025-04-11T00:40Z","p":76540,"s":"d"}]},
"mark":{"type":"line","color":"#7f9bf6","strokeWidth":6,"strokeDash":[6,12]},"encoding":{"detail":{"field":"s"}}},
{"data":{"values":[{"t":"2025-03-06T05:04Z","p":78200,"label":"HUNT1"},{"t":"2025-03-26T08:28Z","p":76500,"label":"HUNT2"}]},
"mark":{"type":"text","font":"Liberation Sans","fontSize":40,"color":"#0a0a8c","baseline":"middle","align":"center"},"encoding":{"text":{"field":"label"}}},
{"data":{"values":[{"t":"2025-03-24T05:04Z","p":91720,"label":"descending channel."}]},
"mark":{"type":"text","font":"Inter","fontSize":39,"fontWeight":700,"color":"#10219a","angle":16,"baseline":"middle","align":"center"},"encoding":{"text":{"field":"label"}}},
{"data":{"values":[{"t":"2025-04-01T04:48Z","t2":"2025-04-18T01:32Z","p":85602,"p2":85316}]},
"mark":{"type":"rect","fill":"#c4edf2","stroke":"#8f9a9a","strokeWidth":2.5},"encoding":{"x2":{"field":"t2"},"y2":{"field":"p2"}}},
{"data":{"values":[{"t":"2025-04-01T04:48Z","p":85459},{"t":"2025-04-18T01:32Z","p":85459}]},
"mark":{"type":"line","color":"#a020b0","strokeWidth":3,"strokeDash":[10,12]}},
{"data":{"values":[{"t":"2025-04-11T20:00Z","p":86180,"label":"target of pattern"}]},
"mark":{"type":"text","font":"Inter","fontSize":44,"fontStyle":"italic","color":"#000000","baseline":"middle","align":"center"},"encoding":{"text":{"field":"label"}}},
{"data":{"values":[{"t":"2025-04-09T23:22Z","p":73885,"label":"a double bottom"}]},
"mark":{"type":"text","font":"Inter","fontSize":42,"fontStyle":"italic","fontWeight":700,"color":"#000000","baseline":"middle","align":"center"},"encoding":{"text":{"field":"label"}}},
{"data":{"values":[{"t":"2025-04-10T16:52Z","p":78768,"s":"shaft"},{"t":"2025-04-13T09:54Z","p":85340,"s":"shaft"},{"t":"2025-04-12T17:52Z","p":85055,"s":"head"},{"t":"2025-04-13T09:54Z","p":85340,"s":"head"},{"t":"2025-04-13T16:52Z","p":84700,"s":"head"}]},
"mark":{"type":"line","color":"#2f5ef0","strokeWidth":4.5},"encoding":{"detail":{"field":"s"}}},
{"data":{"name":"arrowShape"},"mark":{"type":"line","fill":"#7d8382","fillOpacity":0.6,"stroke":"#a9b3b2","strokeOpacity":0.9,"strokeWidth":16,"strokeJoin":"round"},"encoding":{"order":{"value":null}}},
{"data":{"name":"arrowShape"},"mark":{"type":"line","color":"#7f8a8a","strokeWidth":5,"strokeJoin":"round"},"encoding":{"order":{"value":null}}},
{"data":{"values":[{"t":"2025-04-27T17:16Z","t2":"2025-05-01T10:46Z","p":82115,"p2":80730}]},
"mark":{"type":"rect","fill":"#0baef0","cornerRadius":3},"encoding":{"x2":{"field":"t2"},"y2":{"field":"p2"}}},
{"data":{"values":[{"t":"2025-04-28T03:34Z","p":81820,"label":"81,791.23"}]},
"mark":{"type":"text","font":"Inter","fontSize":27,"color":"#ffffff","baseline":"middle","align":"left"},"encoding":{"text":{"field":"label"}}},
{"data":{"values":[{"t":"2025-04-28T03:34Z","p":81180,"label":"02:28:31"}]},
"mark":{"type":"text","font":"Inter","fontSize":27,"color":"#cdeefc","baseline":"middle","align":"left"},"encoding":{"text":{"field":"label"}}},
{"data":{"values":[{"t":"2025-04-27T20:52Z","t2":"2025-05-01T19:16Z","p":106296,"p2":106089}]},
"mark":{"type":"rect","fill":"#f0fafc"},"encoding":{"x2":{"field":"t2"},"y2":{"field":"p2"}}},
{"data":{"values":[{"t":"2025-04-27T20:52Z","t2":"2025-05-01T19:16Z","p":107850,"p2":106296}]},
"mark":{"type":"rect","fill":"#ffffff","cornerRadius":12},"encoding":{"x2":{"field":"t2"},"y2":{"field":"p2"}}},
{"data":{"values":[{"t":"2025-04-28T08:28Z","p":107070,"label":"USDT"}]},
"mark":{"type":"text","font":"Inter","fontSize":24,"color":"#131722","baseline":"middle","align":"left"},"encoding":{"text":{"field":"label"}}},
{"data":{"values":[{"t":"2025-04-10T09:40Z","p":68500}]},
"mark":{"type":"point","shape":"circle","size":1444,"filled":true,"fill":"#f7fcfd","stroke":"#9c27b0","strokeWidth":4,"opacity":1}},
{"data":{"values":[{"t":"2025-04-10T09:40Z","p":68500}]},
"mark":{"type":"point","shape":"M0.25,-1 L-0.55,0.15 L-0.05,0.15 L-0.25,1 L0.55,-0.2 L0.05,-0.2 Z","size":420,"filled":true,"fill":"#9c27b0","opacity":1}},
{"data":{"values":[{"t":"2025-04-27T12:22Z","p":67610},{"t":"2025-04-27T12:22Z","p":67230}]},
"mark":{"type":"point","shape":"diamond","size":300,"filled":true,"fill":"#ffffff","stroke":"#b5bfc2","strokeWidth":1,"opacity":1}},
{"data":{"values":[{"t":"2025-04-28T01:04Z","p":67360,"label":"@Gk_Aronno"}]},
"mark":{"type":"text","font":"Inter","fontSize":25,"color":"#ffffff","stroke":"#aeb8bb","strokeWidth":0.7,"baseline":"middle","align":"left"},"encoding":{"text":{"field":"label"}}}
]},
{"encoding":{
"x":{"field":"u","type":"quantitative","scale":{"domain":[-5940,2730],"nice":false,"zero":false},"axis":null},
"y":{"field":"v","type":"quantitative","scale":{"domain":[-450,4692],"reverse":true,"nice":false,"zero":false},"axis":null}},
"layer":[
{"data":{"name":"ring"},"mark":{"type":"line","color":"#2a2aa5","strokeWidth":0.9,"opacity":0.85},"encoding":{"order":{"value":null}}},
{"data":{"name":"ring2"},"mark":{"type":"line","color":"#2a2aa5","strokeWidth":1,"opacity":0.9},"encoding":{"order":{"value":null}}},
{"data":{"name":"ring"},"mark":{"type":"point","shape":"circle","filled":true,"size":30,"color":"#04048f","opacity":1}},
{"data":{"name":"ring2"},"mark":{"type":"point","shape":"circle","filled":true,"size":30,"color":"#04048f","opacity":1}},
{"data":{"name":"bee"},"mark":{"type":"line","fill":"#ccd2d5","stroke":"#ccd2d5","xOffset":12,"yOffset":6},"encoding":{"order":{"value":null}}},
{"data":{"name":"bee"},"mark":{"type":"line","strokeWidth":1,"stroke":"#0a1a9a","fill":{"gradient":"linear","x1":0,"y1":0,"x2":0,"y2":1,"stops":[{"offset":0,"color":"#2f96d8"},{"offset":0.25,"color":"#1f6fc0"},{"offset":0.55,"color":"#06089a"},{"offset":1,"color":"#040790"}]}},"encoding":{"order":{"value":null}}},
{"data":{"values":[{"u":655,"v":515},{"u":770,"v":515},{"u":790,"v":530},{"u":798,"v":555},{"u":790,"v":580},{"u":765,"v":597},{"u":655,"v":597},{"u":655,"v":515}]},"mark":{"type":"line","fill":"#dfe3e5","stroke":"#dfe3e5"},"encoding":{"order":{"value":null}}},
{"data":{"values":[{"u":655,"v":658},{"u":775,"v":658},{"u":800,"v":675},{"u":810,"v":705},{"u":800,"v":735},{"u":770,"v":752},{"u":655,"v":752},{"u":655,"v":658}]},"mark":{"type":"line","fill":"#dfe3e5","stroke":"#dfe3e5"},"encoding":{"order":{"value":null}}}
]}
],
"resolve":{"scale":{"x":"independent","y":"independent"}}
}
